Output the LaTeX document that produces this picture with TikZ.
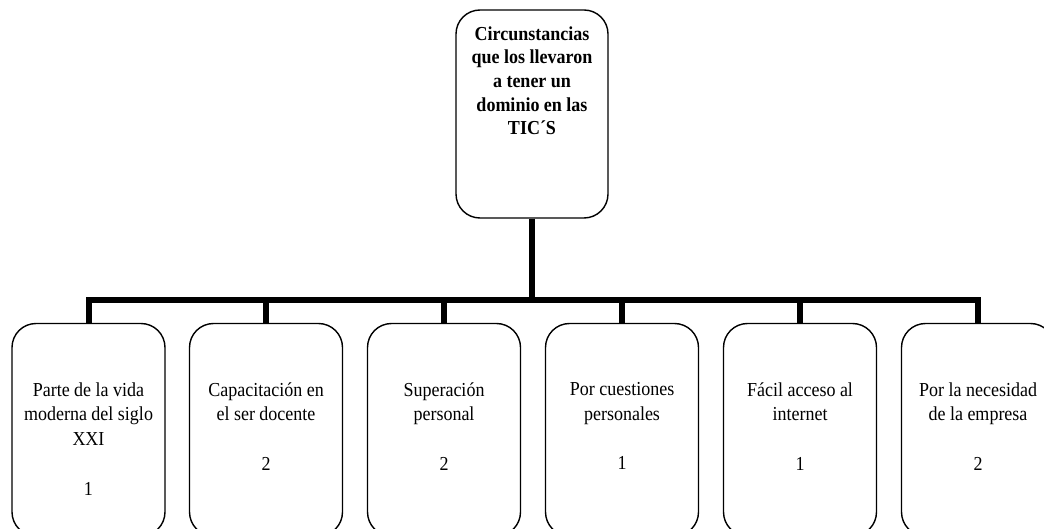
\documentclass[tikz,border=0pt]{standalone}
\usepackage{fontspec}
\setmainfont{Liberation Serif}
\begin{document}
\begin{tikzpicture}[x=1pt,y=-1pt,
  rbox/.style={draw,line width=1.4pt,rounded corners=24pt,inner sep=0pt},
  topbox/.style={rbox,minimum width=152pt,minimum height=208pt},
  leaf/.style={rbox,minimum width=153pt,minimum height=212.5pt},
  toptext/.style={inner sep=0pt,align=center,font=\fontsize{18}{21.45}\selectfont\bfseries,anchor=north,yscale=1.1,transform shape},
  leaftext/.style={inner sep=0pt,align=center,font=\fontsize{18}{22.45}\selectfont,anchor=north,yscale=1.1,transform shape},
  bar/.style={line width=6pt,line join=miter,line cap=butt}]
\useasboundingbox (0,0) rectangle (1044,529);
% top box
\node[topbox] (top) at (532,114) {};
\node[toptext] (toptxt) at ([yshift=-17pt]top.north) {\rule{0pt}{11.8pt}Circunstancias\\que los llevaron\\a tener un\\dominio en las\\TIC´S};
% leaf boxes
\node[leaf] (b1) at (88.5,429.75) {};
\node[leaf] (b2) at (266,429.75) {};
\node[leaf] (b3) at (444,429.75) {};
\node[leaf] (b4) at (622,429.75) {};
\node[leaf] (b5) at (800,429.75) {};
\node[leaf] (b6) at (978,429.75) {};
\node[leaftext] (t1) at ([yshift=-59.5pt]b1.north) {\rule{0pt}{11.8pt}Parte de la vida\\moderna del siglo\\XXI\\[22.45pt]1};
\node[leaftext] (t2) at ([yshift=-59.5pt]b2.north) {\rule{0pt}{11.8pt}Capacitación en\\el ser docente\\[22.45pt]2};
\node[leaftext] (t3) at ([yshift=-59.5pt]b3.north) {\rule{0pt}{11.8pt}Superación\\personal\\[22.45pt]2};
\node[leaftext] (t4) at ([yshift=-59.5pt]b4.north) {\rule{0pt}{11.8pt}Por cuestiones\\personales\\[22.45pt]1};
\node[leaftext] (t5) at ([yshift=-59.5pt]b5.north) {\rule{0pt}{11.8pt}Fácil acceso al\\internet\\[22.45pt]1};
\node[leaftext] (t6) at ([yshift=-59.5pt]b6.north) {\rule{0pt}{11.8pt}Por la necesidad\\de la empresa\\[22.45pt]2};
% connectors
\coordinate (j) at (top.south |- 0,300);
\draw[bar] (top.south) -- (j);
\foreach \b in {b1,b2,b3,b4,b5,b6}{
  \draw[bar] (j) -| (\b.north);
}
\end{tikzpicture}
\end{document}
